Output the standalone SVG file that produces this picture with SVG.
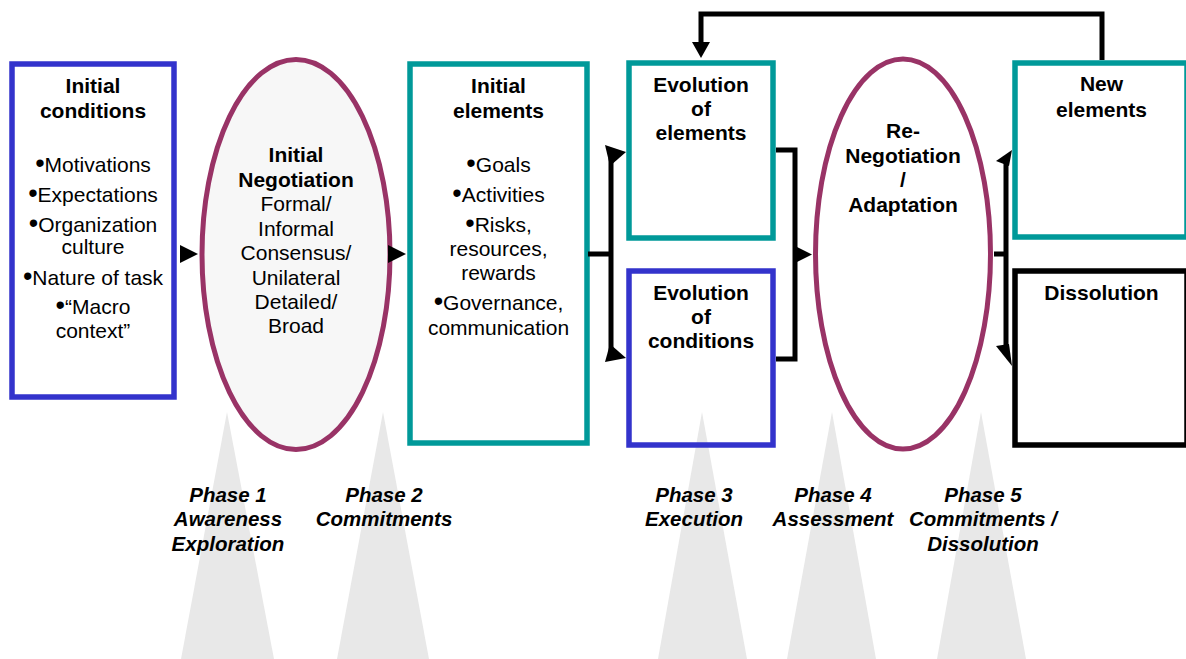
<svg xmlns="http://www.w3.org/2000/svg" width="1186" height="659" viewBox="0 0 1186 659">
<style>
text{font-family:"Liberation Sans",Arial,sans-serif;font-size:21px;fill:#000;text-anchor:middle}
.b{font-weight:bold}
.ph{font-weight:bold;font-style:italic;font-size:20.5px}
.bu{font-size:27px}
.blue{fill:none;stroke:#3333cc;stroke-width:5.5}
.teal{fill:#fff;stroke:#009999;stroke-width:5.5}
.blk{fill:#fff;stroke:#000;stroke-width:5.5}
.oval{stroke:#993366;stroke-width:5}
.spot{fill:#e8e8e8}
.con{fill:none;stroke:#000;stroke-width:5}
</style>
<rect width="1186" height="659" fill="#fff"/>

<g id="spotlights">
<polygon class="spot" points="227,412 181,659 274,659"/>
<polygon class="spot" points="383,412 337,659 429,659"/>
<polygon class="spot" points="702,412 658,659 747,659"/>
<polygon class="spot" points="832,412 787,659 876,659"/>
<polygon class="spot" points="981,412 937,659 1026,659"/>
</g>

<g id="initial-conditions">
<rect x="12" y="64" width="162" height="333" fill="#f7f7f7" class="blue"/>
<text class="b" x="93" y="93">Initial</text>
<text class="b" x="93" y="118">conditions</text>
<text x="93" y="172"><tspan class="bu">•</tspan>Motivations</text>
<text x="93" y="202"><tspan class="bu">•</tspan>Expectations</text>
<text x="93" y="232"><tspan class="bu">•</tspan>Organization</text>
<text x="93" y="254">culture</text>
<text x="93" y="285"><tspan class="bu">•</tspan>Nature of task</text>
<text x="93" y="314"><tspan class="bu">•</tspan>“Macro</text>
<text x="93" y="338">context”</text>
</g>

<g id="initial-negotiation">
<ellipse cx="296" cy="254.5" rx="94" ry="195" fill="#f7f7f7" class="oval"/>
<text class="b" x="296" y="162">Initial</text>
<text class="b" x="296" y="187">Negotiation</text>
<text x="296" y="211">Formal/</text>
<text x="296" y="236">Informal</text>
<text x="296" y="260">Consensus/</text>
<text x="296" y="285">Unilateral</text>
<text x="296" y="309">Detailed/</text>
<text x="296" y="333">Broad</text>
</g>

<g id="initial-elements">
<rect x="410" y="64" width="177" height="379" class="teal"/>
<text class="b" x="498.5" y="93">Initial</text>
<text class="b" x="498.5" y="118">elements</text>
<text x="498.5" y="172"><tspan class="bu">•</tspan>Goals</text>
<text x="498.5" y="202"><tspan class="bu">•</tspan>Activities</text>
<text x="498.5" y="232"><tspan class="bu">•</tspan>Risks,</text>
<text x="498.5" y="256">resources,</text>
<text x="498.5" y="280">rewards</text>
<text x="498.5" y="310"><tspan class="bu">•</tspan>Governance,</text>
<text x="498.5" y="335">communication</text>
</g>

<g id="evolution-elements">
<rect x="629" y="63" width="144" height="175" class="teal"/>
<text class="b" x="701" y="92">Evolution</text>
<text class="b" x="701" y="116">of</text>
<text class="b" x="701" y="140">elements</text>
</g>

<g id="evolution-conditions">
<rect x="629" y="271" width="144" height="174" class="blue"/>
<text class="b" x="701" y="300">Evolution</text>
<text class="b" x="701" y="324">of</text>
<text class="b" x="701" y="348">conditions</text>
</g>

<g id="renegotiation">
<ellipse cx="903" cy="254" rx="87.5" ry="195" fill="#fff" class="oval"/>
<text class="b" x="903" y="138">Re-</text>
<text class="b" x="903" y="163">Negotiation</text>
<text class="b" x="903" y="187">/</text>
<text class="b" x="903" y="212">Adaptation</text>
</g>

<g id="new-elements">
<rect x="1015" y="63" width="172" height="174" class="teal"/>
<text class="b" x="1101.5" y="91">New</text>
<text class="b" x="1101.5" y="117">elements</text>
</g>

<g id="dissolution">
<rect x="1015" y="271" width="172" height="174" class="blk"/>
<text class="b" x="1101.5" y="300">Dissolution</text>
</g>

<g id="connectors">
<polygon points="180,245 180,263 198,254" fill="#000"/>
<polygon points="388,245 388,263 406,254" fill="#000"/>
<path class="con" d="M588,254 H610 M611,158 V352"/>
<polygon points="626,152 605,145 610,166" fill="#000"/>
<polygon points="626,358 605,362 610,344" fill="#000"/>
<path class="con" d="M776,150 H795 V359 H776"/>
<polygon points="793,245 793,264 812,254.5" fill="#000"/>
<path class="con" d="M994,254 H1006 M1006,162 V352"/>
<polygon points="1012,150 996,161 1009,166" fill="#000"/>
<polygon points="1012,366 996,346 1009,344" fill="#000"/>
<path class="con" d="M1102,60 V14 H701 V44"/>
<polygon points="692,42 710,42 701,58" fill="#000"/>
</g>

<g id="phase-labels">
<text class="ph" x="228" y="502">Phase 1</text>
<text class="ph" x="228" y="526">Awareness</text>
<text class="ph" x="228" y="551">Exploration</text>
<text class="ph" x="384" y="502">Phase 2</text>
<text class="ph" x="384" y="526">Commitments</text>
<text class="ph" x="694" y="502">Phase 3</text>
<text class="ph" x="694" y="526">Execution</text>
<text class="ph" x="833" y="502">Phase 4</text>
<text class="ph" x="833" y="526">Assessment</text>
<text class="ph" x="983" y="502">Phase 5</text>
<text class="ph" x="983" y="526">Commitments /</text>
<text class="ph" x="983" y="551">Dissolution</text>
</g>
</svg>
